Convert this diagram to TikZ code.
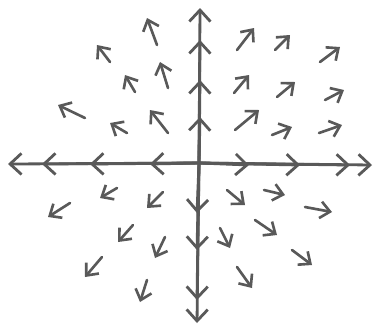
\documentclass[tikz,border=0pt]{standalone}
\usetikzlibrary{arrows.meta}
\begin{document}
\begin{tikzpicture}[x=0.02cm, y=-0.02cm, line cap=round, line join=round, >={Straight Barb[length=5.5pt,width=9.5pt]}, line width=1.5pt, draw=black!65]
	\tikzset{axis style/.style={line width=1.6pt, >={Straight Barb[length=6.5pt,width=12pt]}}}
	\useasboundingbox (0,0) rectangle (377,326);
	\coordinate (O) at (199,163);
	\foreach \t in {150,90,42,8} \draw[axis style,->] (O) -- (\t,164);
	\foreach \t in {249,300,350,372} \draw[axis style,->] (O) -- (\t,165);
	\foreach \t in {117,80,40,8} \draw[axis style,->] (O) -- (200,\t);
	\foreach \t in {213,250,300,323} \draw[axis style,->] (O) -- (197,\t);
	\foreach \a/\b/\c/\d in {157/45/147/18, 110/62/97/45, 168/88/160/62, 135/92/125/75,
		85/118/58/105, 127/133/110/123, 168/133/150/110,
		237/50/254/28, 275/50/290/35, 320/62/340/47, 234/93/249/75, 277/97/295/82,
		325/100/344/90, 235/130/259/110, 272/135/292/127, 319/133/342/125,
		117/188/100/198, 163/192/147/208, 70/203/48/217, 133/225/118/242,
		165/237/155/258, 102/257/85/277, 147/280/140/302,
		227/190/245/205, 264/190/285/195, 305/207/332/212, 220/228/230/248,
		255/220/277/235, 292/250/312/265, 237/267/252/288}
		\draw[->] (\a,\b) -- (\c,\d);
\end{tikzpicture}
\end{document}
